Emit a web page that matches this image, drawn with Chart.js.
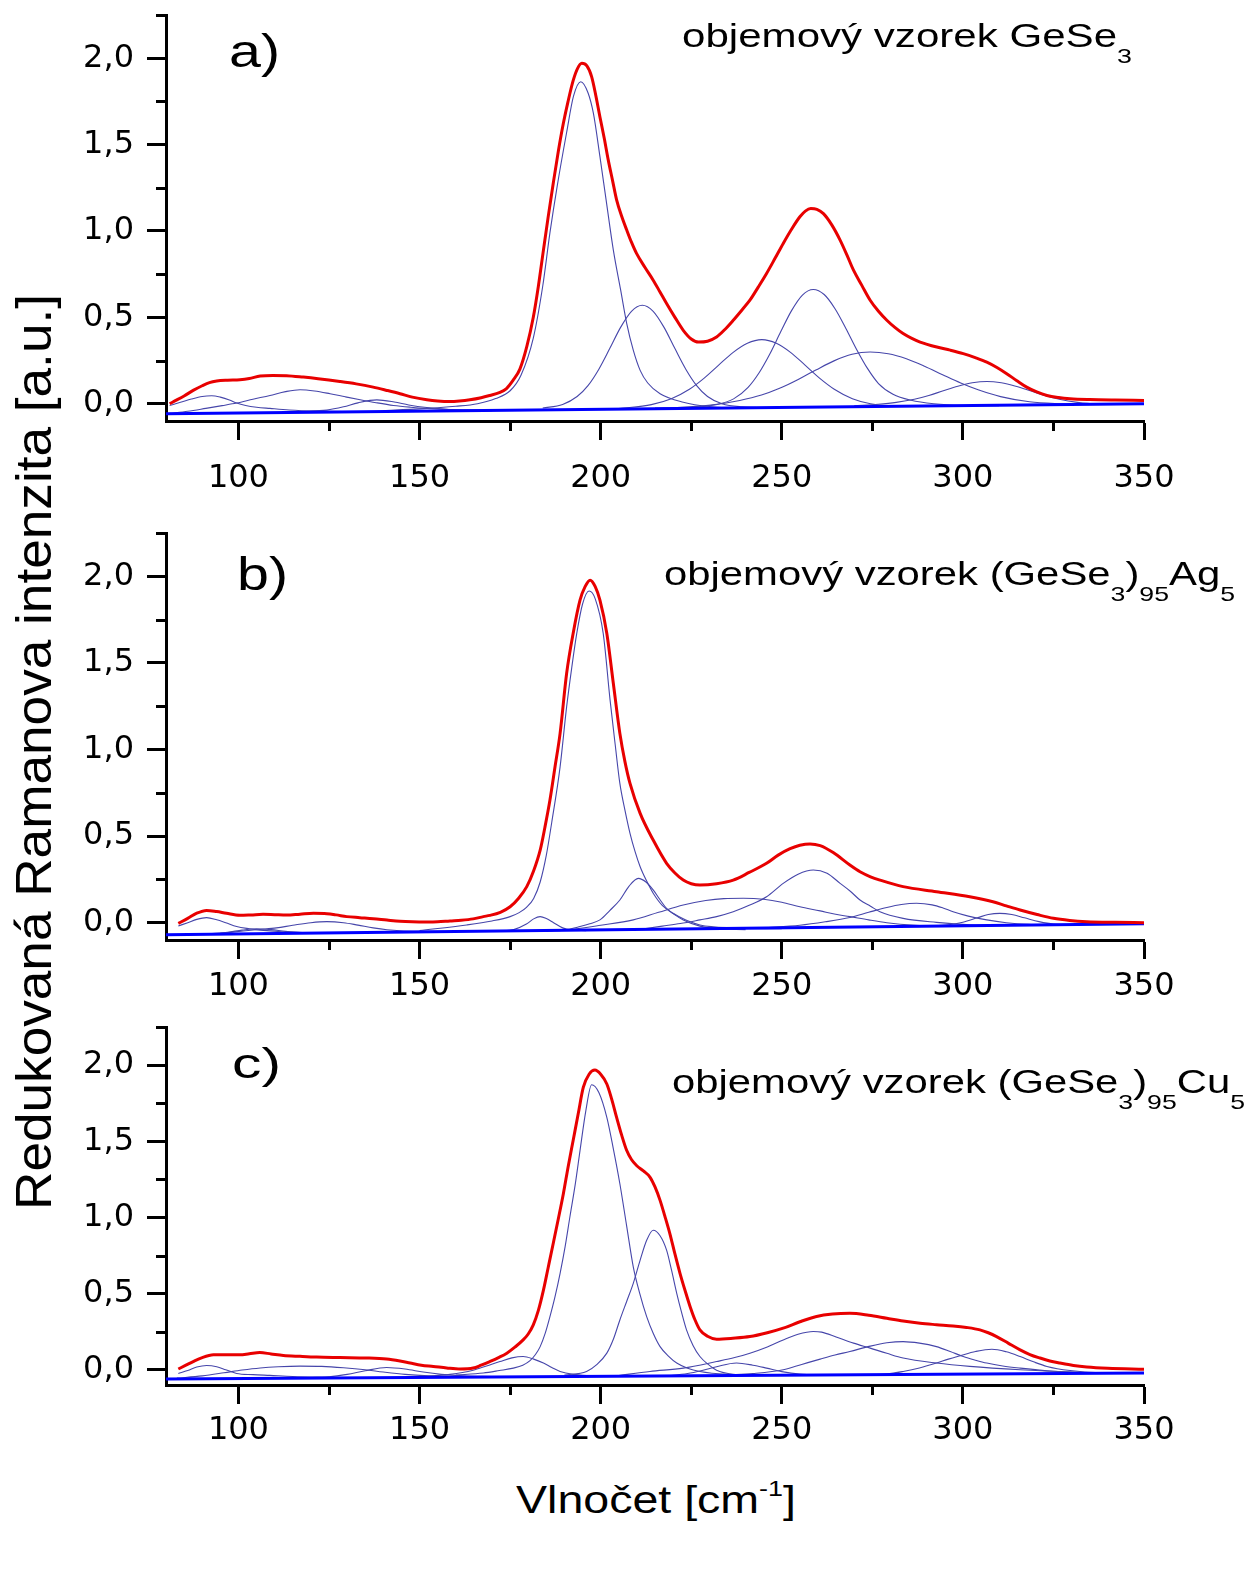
<!DOCTYPE html>
<html><head><meta charset="utf-8">
<script src="https://cdn.jsdelivr.net/npm/chart.js@4.4.1/dist/chart.umd.min.js"></script>
<style>
html,body{margin:0;padding:0;background:#fff;}
body{width:1249px;height:1593px;position:relative;overflow:hidden;font-family:"Liberation Sans",Arial,sans-serif;color:#000;}
canvas{position:absolute;left:0;}
.t{position:absolute;white-space:nowrap;line-height:1;left:0;top:0;}
.sub{font-size:21px;vertical-align:-16px;line-height:0;}
.sup{font-size:22px;vertical-align:17px;line-height:0;}
</style></head><body>
<canvas id="ca" width="1249" height="526" style="top:-25px;width:1249px;height:526px"></canvas>
<canvas id="cb" width="1249" height="527" style="top:493px;width:1249px;height:527px"></canvas>
<canvas id="cc" width="1249" height="478" style="top:987px;width:1249px;height:478px"></canvas>
<script>
// ---------- axis ticks ----------
const xTicks = [100, 150, 200, 250, 300, 350];
const xMinor = [125, 175, 225, 275, 325];
const yTicks = [0, 0.5, 1.0, 1.5, 2.0];
const yMinor = [0.25, 0.75, 1.25, 1.75, 2.25];

// ---------- panel a: GeSe3 ----------
const aTotal = [[81,0.0],[83,0.022],[85,0.045],[87.5,0.077],[90,0.104],[92,0.122],[94,0.131],[97,0.136],[100.4,0.139],[103,0.146],[106,0.16],[109.5,0.163],[113.3,0.162],[117.9,0.154],[122,0.145],[128,0.129],[132.5,0.115],[137.2,0.096],[141,0.077],[144.6,0.058],[148,0.038],[152,0.023],[155,0.016],[158.4,0.013],[161,0.016],[163.9,0.023],[167,0.035],[169.4,0.048],[172,0.064],[174,0.088],[175.8,0.135],[177.7,0.2],[179.6,0.33],[181.4,0.5],[182.8,0.68],[184.2,0.889],[185.5,1.08],[186.9,1.275],[188.3,1.46],[189.7,1.623],[191,1.75],[192.4,1.87],[193.6,1.94],[194.8,1.97],[196.2,1.955],[197.5,1.893],[198.6,1.79],[199.8,1.66],[201,1.535],[202.1,1.41],[203.3,1.29],[204.4,1.18],[205.8,1.085],[207.2,1.005],[208.5,0.935],[209.9,0.87],[212.2,0.79],[214.5,0.715],[216.3,0.65],[218.2,0.58],[220.5,0.5],[222.8,0.425],[225,0.375],[227,0.357],[229.5,0.362],[232,0.386],[234.3,0.43],[236.6,0.483],[238.9,0.54],[241.2,0.599],[243.5,0.675],[245.8,0.754],[248.1,0.84],[250.4,0.928],[252.7,1.01],[255,1.082],[256.5,1.115],[258,1.13],[259.7,1.125],[261.5,1.1],[263.8,1.035],[266.1,0.947],[268,0.86],[269.8,0.773],[272.1,0.685],[274.4,0.599],[276.7,0.535],[279,0.483],[281.3,0.44],[283.5,0.406],[285.9,0.378],[288.2,0.357],[292.8,0.328],[296.5,0.31],[300.1,0.29],[303.4,0.267],[306.6,0.241],[309.4,0.21],[312.1,0.174],[314.9,0.133],[317.6,0.096],[320.4,0.068],[323.2,0.048],[326.4,0.036],[329.6,0.029],[335,0.024],[342,0.021],[350,0.019]];
const aBase = [[80,-0.058],[350,0.0]];
const aPeak91 = [[81,-0.01],[84,0.008],[87,0.027],[90,0.042],[92.6,0.046],[95,0.038],[97.5,0.022],[99.5,0.004],[102,-0.01],[105,-0.02],[108.7,-0.027],[114,-0.036],[122,-0.043],[132,-0.047]];
const aPeak117 = [[81,-0.056],[86,-0.044],[91,-0.027],[95.5,-0.011],[99.5,0.004],[104,0.026],[108.7,0.048],[113,0.07],[117,0.081],[121,0.074],[125.3,0.058],[129.5,0.04],[133.6,0.023],[138,0.006],[142.8,-0.01],[147.5,-0.02],[152,-0.027],[160,-0.035],[170,-0.04]];
const aPeak138 = [[112,-0.047],[118,-0.044],[124.4,-0.037],[129,-0.018],[133,0.005],[138.2,0.022],[143,0.01],[147,-0.007],[152,-0.022],[158,-0.033],[166,-0.038]];
const aPeak195 = [[140,-0.04],[150,-0.03],[160,-0.015],[166,0.0],[171,0.03],[175,0.075],[178,0.165],[181.4,0.38],[184,0.68],[186,0.99],[188,1.26],[190.6,1.57],[192.5,1.78],[194.5,1.864],[196.5,1.8],[198,1.68],[199.8,1.43],[201.5,1.18],[203.5,0.889],[205.5,0.66],[207.2,0.464],[209,0.31],[210.9,0.193],[213,0.12],[216.4,0.058],[222.8,0.009],[230,-0.016],[240,-0.025],[255,-0.02]];
const aPeak211 = [[184,-0.025],[189.5,-0.004],[193.5,0.042],[196.5,0.105],[199.5,0.2],[202.5,0.319],[205.5,0.442],[208.5,0.535],[211.5,0.57],[214.5,0.535],[217.5,0.442],[220.5,0.319],[223.5,0.2],[226.5,0.105],[229.5,0.042],[233.5,0.0],[239,-0.018],[248,-0.024]];
const aPeak244 = [[205,-0.028],[214,-0.005],[219.5,0.029],[224.5,0.084],[228.5,0.147],[232.5,0.222],[236.5,0.296],[240.5,0.35],[244.5,0.371],[248.5,0.35],[252.5,0.296],[256.5,0.222],[260.5,0.147],[264.5,0.084],[269.5,0.029],[274.5,0.0],[281,-0.013],[292,-0.016]];
const aPeak259 = [[222,-0.024],[226,-0.02],[231.7,-0.006],[236.7,0.028],[240.7,0.095],[243.7,0.178],[246.7,0.288],[249.7,0.416],[252.7,0.539],[255.7,0.629],[258.7,0.661],[261.7,0.632],[264.7,0.55],[267.7,0.436],[270.7,0.313],[273.7,0.203],[276.7,0.117],[280.7,0.055],[285.7,0.02],[292,0.0],[300,-0.01],[310,-0.012]];
const aPeak274 = [[215,-0.025],[222,-0.02],[230.4,-0.008],[238.4,0.019],[244.4,0.05],[249.4,0.089],[254.4,0.139],[259.4,0.195],[264.4,0.248],[269.4,0.286],[274.4,0.299],[279.4,0.289],[284.4,0.26],[289.4,0.217],[294.4,0.168],[299.4,0.12],[304.4,0.079],[310.4,0.041],[318.4,0.011],[326.4,0.0],[335,-0.004],[345,-0.003]];
const aPeak307 = [[270,-0.012],[276.6,-0.003],[281.6,0.008],[286.6,0.026],[290.6,0.048],[294.6,0.075],[298.6,0.101],[302.6,0.121],[306.6,0.129],[310.6,0.121],[314.6,0.101],[318.6,0.075],[322.6,0.048],[326.6,0.026],[331.6,0.008],[336.6,-0.001],[345,-0.002]];

// ---------- panel b: (GeSe3)95Ag5 ----------
const bTotal = [[83.4,-0.004],[86,0.025],[88.5,0.055],[91.2,0.071],[94,0.064],[96.7,0.054],[100.4,0.043],[103.5,0.045],[106.8,0.048],[110,0.046],[113.3,0.044],[117,0.049],[120.7,0.054],[124.4,0.052],[127,0.045],[129.9,0.035],[133.5,0.029],[137.2,0.023],[141,0.015],[144.6,0.008],[148,0.005],[152,0.004],[155,0.005],[158.4,0.01],[161.5,0.014],[164.8,0.022],[167.6,0.035],[169.4,0.042],[172.3,0.06],[175,0.092],[177.3,0.14],[179.6,0.208],[181.5,0.3],[183.3,0.419],[184.6,0.55],[186,0.708],[187.4,0.9],[188.8,1.093],[190.6,1.439],[192.4,1.67],[194.3,1.862],[195.7,1.94],[197.1,1.977],[198.5,1.94],[199.8,1.862],[201.7,1.67],[203.5,1.381],[205.3,1.093],[206.7,0.93],[208.1,0.804],[210.9,0.631],[214.5,0.477],[218.2,0.343],[220.5,0.287],[222.8,0.246],[225,0.225],[227.4,0.217],[232,0.225],[236.6,0.246],[241,0.29],[245.8,0.343],[249,0.39],[252.3,0.427],[255,0.447],[257.8,0.455],[260.6,0.445],[264.2,0.405],[268.8,0.333],[271.6,0.294],[274.5,0.265],[277.1,0.246],[283.5,0.208],[292.7,0.179],[301.9,0.15],[308.3,0.121],[312,0.097],[315.8,0.073],[320.5,0.047],[325,0.025],[329.5,0.013],[334.2,0.006],[342,0.002],[350,0.0]];
const bBase = [[80,-0.07],[350,-0.006]];
const bPeak91 = [[83.4,-0.019],[86,0.0],[88.5,0.019],[91.2,0.029],[94,0.017],[96.5,0.0],[99.5,-0.022],[103,-0.035],[106,-0.043],[112,-0.052],[120,-0.057],[130,-0.058]];
const bPeak105 = [[92,-0.064],[97,-0.055],[101,-0.043],[105,-0.035],[109,-0.04],[113,-0.05],[118,-0.058]];
const bPeak124 = [[95,-0.062],[101.3,-0.048],[106,-0.039],[110.5,-0.03],[115,-0.015],[120,0.0],[124.4,0.006],[129,0.0],[133,-0.014],[137.2,-0.03],[141,-0.041],[144.6,-0.047],[152,-0.05],[160,-0.051]];
const bPeak183 = [[172,-0.048],[176,-0.04],[179.5,-0.008],[181.5,0.022],[183.3,0.035],[185,0.024],[187,0.0],[189.5,-0.03],[192,-0.042],[196,-0.046]];
const bPeak197 = [[150,-0.045],[163,-0.013],[170,0.01],[175,0.035],[177.5,0.058],[179.6,0.09],[181.5,0.14],[183.3,0.235],[185,0.39],[186.5,0.58],[188.8,0.9],[190.6,1.246],[192,1.47],[193.4,1.67],[195,1.84],[196.8,1.915],[198.5,1.87],[200.7,1.67],[202.6,1.285],[204,1.03],[205.3,0.804],[206.7,0.65],[208.1,0.516],[209.5,0.41],[210.9,0.323],[212.7,0.24],[214.5,0.17],[217,0.1],[220,0.054],[223.5,0.015],[227.4,-0.013],[236.6,-0.03],[250,-0.035]];
const bPeak210 = [[186,-0.046],[190.6,-0.04],[194.3,-0.022],[197,-0.006],[199.8,0.016],[202.5,0.07],[205.3,0.131],[207.8,0.21],[210.4,0.256],[212.5,0.235],[214.5,0.189],[216.3,0.135],[218.2,0.083],[220.5,0.045],[222.8,0.016],[227.4,-0.02],[232,-0.035],[240,-0.04]];
const bPeak239 = [[185,-0.05],[191.5,-0.04],[200,-0.015],[209,0.016],[216,0.06],[222.8,0.102],[229,0.128],[234,0.139],[239.4,0.141],[245,0.135],[250,0.118],[255,0.092],[260.6,0.068],[264.5,0.05],[268.8,0.035],[274,0.016],[279,0.0],[286,-0.014],[295,-0.019],[305,-0.017]];
const bPeak259 = [[212,-0.035],[217,-0.02],[222,-0.005],[227.4,0.016],[232,0.035],[236.6,0.063],[241,0.1],[245.8,0.15],[250.4,0.227],[254.5,0.28],[258.7,0.304],[262.5,0.285],[266.1,0.227],[269,0.18],[271.6,0.131],[274.5,0.095],[277.1,0.063],[283.5,0.025],[292.7,0.002],[302,-0.012],[312,-0.015]];
const bPeak287 = [[245,-0.03],[255,-0.015],[262,0.005],[268.8,0.03],[274,0.06],[279,0.088],[283,0.105],[287.2,0.112],[291.5,0.103],[294.5,0.085],[297.3,0.063],[301.5,0.038],[306.6,0.016],[312,0.0],[318,-0.01],[325,-0.013]];
const bPeak310 = [[290,-0.02],[296,-0.012],[300,0.003],[304,0.028],[307,0.047],[310.2,0.054],[313.5,0.047],[317,0.028],[321,0.006],[325,-0.008],[332,-0.012]];

// ---------- panel c: (GeSe3)95Cu5 ----------
const cTotal = [[83.4,0.005],[85.5,0.03],[87.5,0.054],[90,0.08],[93.1,0.098],[97,0.099],[100.4,0.098],[103,0.105],[105.9,0.113],[109,0.104],[112.4,0.094],[117,0.088],[121.6,0.083],[128,0.08],[135.4,0.077],[140.9,0.07],[144.6,0.057],[147.4,0.044],[150.5,0.03],[153.8,0.022],[157.5,0.012],[161.2,0.005],[164.8,0.011],[167,0.03],[169.4,0.054],[171.8,0.08],[174.1,0.109],[176.4,0.15],[178.6,0.196],[180,0.235],[181.4,0.295],[182.8,0.39],[184.2,0.523],[185.5,0.67],[186.9,0.829],[188.3,0.99],[189.7,1.156],[191,1.33],[192.4,1.505],[193.8,1.68],[195.2,1.853],[196.8,1.94],[198.4,1.967],[200,1.94],[201.7,1.876],[203,1.78],[204.4,1.657],[205.8,1.54],[207.2,1.439],[208.5,1.38],[209.9,1.341],[211.8,1.305],[213.6,1.265],[215,1.2],[216.4,1.112],[217.7,1.01],[219.1,0.894],[220.5,0.76],[221.9,0.633],[223.3,0.52],[224.7,0.414],[226,0.33],[227.4,0.262],[229.5,0.22],[232,0.201],[236.5,0.207],[241.2,0.218],[246,0.243],[250.4,0.273],[255,0.315],[259.6,0.35],[264,0.366],[268.8,0.371],[274,0.358],[279,0.338],[283.5,0.32],[288.2,0.305],[292.7,0.296],[297.3,0.288],[301,0.278],[304.7,0.262],[307,0.243],[309.3,0.218],[312.5,0.175],[315.8,0.131],[318.5,0.1],[321.3,0.077],[324,0.058],[326.8,0.044],[330.5,0.028],[334.2,0.018],[340,0.01],[350,0.004]];
const cBase = [[80,-0.06],[350,-0.022]];
const cPeak91 = [[83.4,-0.024],[86,-0.005],[88.5,0.018],[91.2,0.028],[94,0.02],[96.5,0.0],[99.5,-0.024],[104,-0.032],[108.7,-0.037],[115,-0.044],[125,-0.049]];
const cPeak117 = [[83,-0.055],[90,-0.04],[96,-0.02],[101,-0.002],[106,0.012],[111,0.02],[117,0.024],[123,0.022],[129,0.013],[135,0.0],[140,-0.015],[146,-0.03],[155,-0.042],[165,-0.047]];
const cPeak141 = [[118,-0.052],[125,-0.046],[130,-0.03],[135,-0.006],[140.9,0.015],[146,0.005],[151,-0.015],[156,-0.03],[162,-0.04],[170,-0.045]];
const cPeak178 = [[150,-0.045],[158.4,-0.03],[164.8,-0.003],[168.5,0.025],[172.2,0.054],[175.5,0.078],[178.6,0.087],[181.5,0.07],[184.2,0.044],[186.5,0.015],[188.8,-0.011],[192.4,-0.03],[198,-0.04]];
const cPeak198 = [[160,-0.035],[167.6,-0.021],[172,-0.005],[175.9,0.011],[178.5,0.03],[180.5,0.06],[182,0.1],[183.3,0.152],[184.7,0.24],[186,0.349],[187.4,0.48],[188.8,0.633],[190.2,0.81],[191.5,1.003],[193,1.22],[194.3,1.439],[195.9,1.7],[197.5,1.871],[199.5,1.82],[201.7,1.657],[203.5,1.45],[205.3,1.221],[207.2,0.94],[209,0.676],[210.8,0.5],[212.7,0.349],[214.5,0.24],[216.4,0.152],[218.7,0.09],[221,0.044],[224,0.01],[227.4,-0.011],[235,-0.03],[245,-0.035]];
const cPeak215 = [[190,-0.035],[196.1,-0.011],[199,0.035],[201.7,0.109],[203.5,0.2],[205.3,0.327],[207.2,0.45],[209,0.567],[210.9,0.72],[212.7,0.85],[214.5,0.916],[216.4,0.88],[218.2,0.785],[219.6,0.65],[221,0.502],[222.3,0.38],[223.7,0.262],[225.5,0.16],[227.4,0.087],[229.7,0.035],[232,-0.003],[236.6,-0.03],[242,-0.036]];
const cPeak238 = [[218,-0.04],[224,-0.025],[228,-0.005],[232,0.02],[237.5,0.044],[242,0.03],[245.8,0.011],[250,-0.012],[255,-0.028],[262,-0.033]];
const cPeak259 = [[205,-0.038],[213.6,-0.011],[222.8,0.011],[232,0.054],[237,0.08],[241.2,0.109],[246,0.15],[250.4,0.196],[254.5,0.233],[258.7,0.251],[261,0.247],[265,0.215],[269.8,0.175],[274.4,0.142],[279,0.108],[283.5,0.077],[292.7,0.044],[301.9,0.022],[315.8,0.0],[330,-0.015],[340,-0.02]];
const cPeak283 = [[235,-0.035],[242,-0.025],[250.4,0.0],[255.5,0.035],[260.6,0.07],[264.7,0.097],[268.8,0.12],[274.4,0.155],[279,0.177],[283.5,0.185],[288,0.175],[292.7,0.152],[296.5,0.12],[300.1,0.087],[303.5,0.063],[306.6,0.044],[311,0.025],[315.8,0.011],[325,-0.01],[335,-0.02]];
const cPeak308 = [[272,-0.034],[279,-0.028],[283.5,-0.011],[288,0.012],[292.7,0.044],[296,0.07],[299.2,0.092],[303.5,0.12],[308,0.135],[312,0.118],[315.8,0.087],[319.5,0.052],[323.2,0.022],[329.6,-0.005],[338,-0.02],[346,-0.022]];

// ---------- styling ----------
const RED = 'rgb(232,0,0)';
const COMP = 'rgb(70,70,170)';
const BASE = 'rgb(0,0,255)';
const pts = arr => arr.map(p => ({x: p[0], y: p[1]}));

function buildDatasets(total, base, comps) {
  const ds = [{data: pts(total), borderColor: RED, borderWidth: 3}];
  ds.push({data: pts(base), borderColor: BASE, borderWidth: 3});
  comps.forEach(c => ds.push({data: pts(c), borderColor: COMP, borderWidth: 1.1}));
  return ds;
}

const minorTickPlugin = {
  id: 'minorTicks',
  afterDraw(chart) {
    const {ctx, chartArea: a} = chart;
    const xs = chart.scales.x, ys = chart.scales.y;
    ctx.save();
    ctx.strokeStyle = '#000';
    ctx.lineWidth = 3;
    ctx.beginPath();
    xMinor.forEach(v => { const p = Math.round(xs.getPixelForValue(v)) + 0.5; ctx.moveTo(p, a.bottom); ctx.lineTo(p, a.bottom + 10); });
    yMinor.forEach(v => { const p = Math.round(ys.getPixelForValue(v)) + 0.5; ctx.moveTo(a.left, p); ctx.lineTo(a.left - 10, p); });
    ctx.stroke();
    ctx.restore();
  }
};

function makePanel(id, datasets, xPad) {
  const canvas = document.getElementById(id);
  return new Chart(canvas, {
    type: 'line',
    data: {datasets},
    options: {
      responsive: false,
      animation: false,
      events: [],
      layout: {padding: {top: 40, right: 105, left: 0, bottom: 0}},
      plugins: {legend: {display: false}, tooltip: {enabled: false}, title: {display: false}},
      elements: {point: {radius: 0}, line: {cubicInterpolationMode: 'monotone', fill: false}},
      scales: {
        x: {
          type: 'linear', min: 80, max: 350,
          afterBuildTicks: s => { s.ticks = xTicks.map(v => ({value: v})); },
          afterFit: s => { s.height = 80; },
          grid: {drawOnChartArea: false, drawTicks: true, tickLength: 19, tickWidth: 3, tickColor: '#000'},
          border: {display: true, color: '#000', width: 3},
          ticks: {color: '#000', padding: xPad, maxRotation: 0, autoSkip: false,
                  font: {family: 'DejaVu Sans', size: 32}}
        },
        y: {
          type: 'linear', min: -0.1, max: 2.25,
          afterBuildTicks: s => { s.ticks = yTicks.map(v => ({value: v})); },
          afterFit: s => { s.width = 166; },
          grid: {drawOnChartArea: false, drawTicks: true, tickLength: 19, tickWidth: 3, tickColor: '#000'},
          border: {display: true, color: '#000', width: 3},
          ticks: {color: '#000', padding: 13, font: {family: 'DejaVu Sans', size: 32},
                  callback: v => Number(v).toFixed(1).replace('.', ',')}
        }
      }
    },
    plugins: [minorTickPlugin]
  });
}

makePanel('ca', buildDatasets(aTotal, aBase, [aPeak91, aPeak117, aPeak138, aPeak195, aPeak211, aPeak244, aPeak259, aPeak274, aPeak307]), 19);
makePanel('cb', buildDatasets(bTotal, bBase, [bPeak91, bPeak105, bPeak124, bPeak183, bPeak197, bPeak210, bPeak239, bPeak259, bPeak287, bPeak310]), 8);
makePanel('cc', buildDatasets(cTotal, cBase, [cPeak91, cPeak117, cPeak141, cPeak178, cPeak198, cPeak215, cPeak238, cPeak259, cPeak283, cPeak308]), 7);

// ---------- texts ----------
function placeText(html, o) {
  const d = document.createElement('div');
  d.className = 't';
  d.style.fontSize = o.size + 'px';
  d.innerHTML = '<span class="in">' + html + '</span><span class="bl" style="display:inline-block;width:0;height:0;vertical-align:baseline"></span>';
  document.body.appendChild(d);
  const dr = d.getBoundingClientRect();
  const blY = d.querySelector('.bl').getBoundingClientRect().top - dr.top;
  const w = d.querySelector('.in').getBoundingClientRect().width;
  const k = o.width ? o.width / w : 1;
  d.style.left = o.x + 'px';
  d.style.top = (o.y - blY) + 'px';
  d.style.transformOrigin = '0px ' + blY + 'px';
  d.style.transform = (o.rotate ? 'rotate(-90deg) ' : '') + 'scaleX(' + k + ')';
}

placeText('a)', {x: 229, y: 67, size: 46, width: 51});
placeText('b)', {x: 237, y: 590, size: 46, width: 51});
placeText('c)', {x: 232, y: 1078, size: 43, width: 49});
placeText('objemový vzorek GeSe<span class="sub">3</span>', {x: 682, y: 47, size: 33, width: 450});
placeText('objemový vzorek (GeSe<span class="sub">3</span>)<span class="sub">95</span>Ag<span class="sub">5</span>', {x: 664, y: 585, size: 33, width: 571});
placeText('objemový vzorek (GeSe<span class="sub">3</span>)<span class="sub">95</span>Cu<span class="sub">5</span>', {x: 672, y: 1093, size: 33, width: 573});
placeText('Vlnočet [cm<span class="sup">-1</span>]', {x: 516, y: 1513, size: 38, width: 280});
placeText('Redukovaná Ramanova intenzita [a.u.]', {x: 51, y: 1210, size: 50, width: 916, rotate: true});
</script>
</body></html>
